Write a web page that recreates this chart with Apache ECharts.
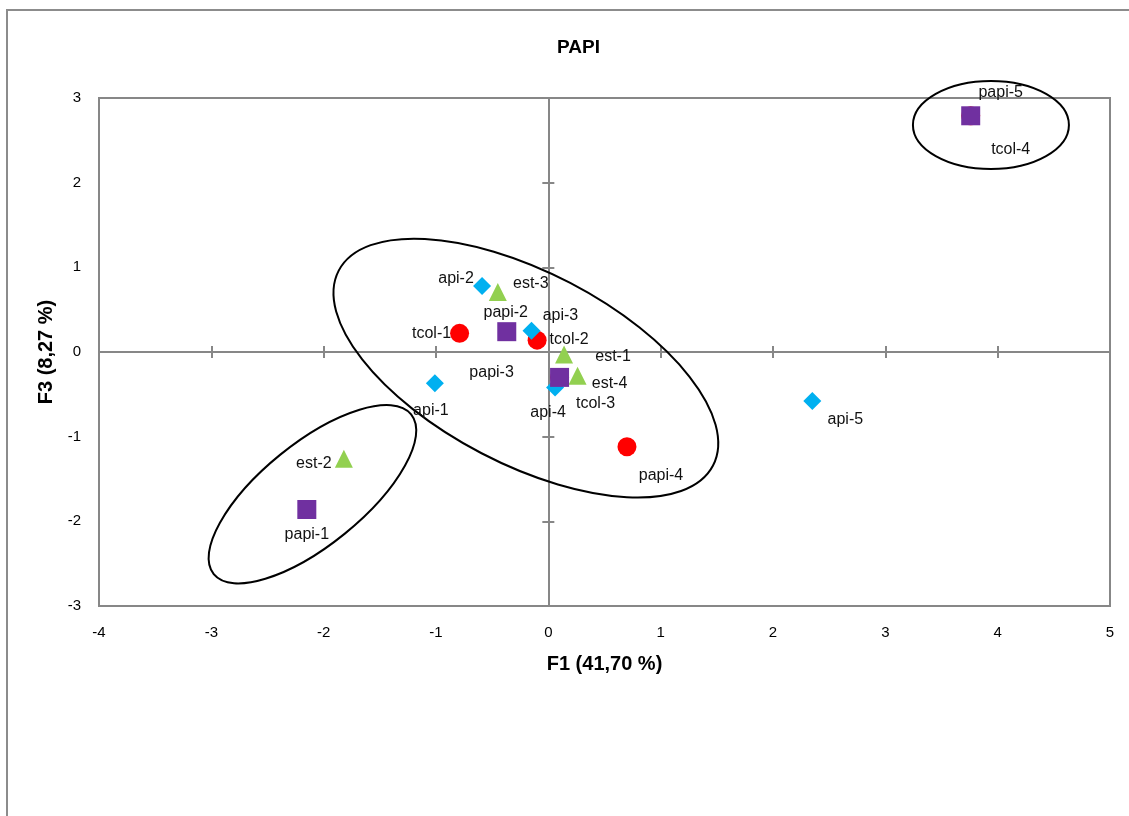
<!DOCTYPE html>
<html>
<head>
<meta charset="utf-8">
<script src="https://cdn.jsdelivr.net/npm/echarts@6/dist/echarts.min.js"></script>
<style>
html,body{margin:0;padding:0;background:#ffffff;}
#chart{width:1129px;height:816px;}
</style>
</head>
<body>
<div id="chart"></div>
<script>
// ---------- DATA ----------
const chartTitle = 'PAPI';
const xAxisName = 'F1 (41,70 %)';
const yAxisName = 'F3 (8,27 %)';
const xMin = -4, xMax = 5, xStep = 1;
const yMin = -3, yMax = 3, yStep = 1;

const pointNames = ['api-1','api-2','api-3','api-4','api-5',
                    'est-1','est-2','est-3','est-4',
                    'tcol-1','tcol-2','tcol-3','tcol-4',
                    'papi-1','papi-2','papi-3','papi-4','papi-5'];
const f1Values = [-1.01, -0.59, -0.15, 0.06, 2.35,
                   0.14, -1.82, -0.45, 0.26,
                  -0.79, -0.10, 0.10, 3.76,
                  -2.15, -0.37, 0.10, 0.70, 3.76];
const f3Values = [-0.37, 0.78, 0.25, -0.42, -0.58,
                  -0.03, -1.26, 0.71, -0.28,
                   0.22, 0.14, -0.30, 2.79,
                  -1.86, 0.24, -0.30, -1.12, 2.79];
const markerGroups = ['api','api','api','api','api',
                      'est','est','est','est',
                      'tcol','tcol','tcol','tcol',
                      'papi','papi','papi','tcol','papi'];

// ---------- STYLE ----------
const groupOrder = ['tcol','api','est','papi'];
const groupStyle = {
  api:  {symbol:'diamond',  size:18, color:'#00b0f0'},
  est:  {symbol:'triangle', size:18, color:'#92d050'},
  tcol: {symbol:'circle',   size:19, color:'#ff0000'},
  papi: {symbol:'rect',     size:19, color:'#7030a0'}
};
// label centre offset from the marker centre (px)
const labelOffsets = {
  'api-1':[-4,27], 'api-2':[-26,-7], 'api-3':[29,-15], 'api-4':[-7,25], 'api-5':[33,18],
  'est-1':[49,2], 'est-2':[-30,5], 'est-3':[33,-8], 'est-4':[32,8],
  'tcol-1':[-28,0], 'tcol-2':[32,-1], 'tcol-3':[36,26], 'tcol-4':[40,34],
  'papi-1':[0,25], 'papi-2':[-1,-19], 'papi-3':[-68,-5], 'papi-4':[34,29], 'papi-5':[30,-23]
};
// annotation ellipses: centre in data units, radii in px, rotation deg (anticlockwise)
const ellipses = [
  {cx:-0.20, cy:-0.19, rx:211, ry:96, rot:-27.5},
  {cx:-2.10, cy:-1.68, rx:127, ry:51, rot:39},
  {cx:3.94,  cy:2.68,  rx:78,  ry:44, rot:0}
];

const gray = '#878787';
const font = 'Liberation Sans, Arial, sans-serif';

const chart = echarts.init(document.getElementById('chart'));

const series = groupOrder.map(function (g) {
  const st = groupStyle[g];
  const data = [];
  pointNames.forEach(function (n, i) {
    if (markerGroups[i] !== g) return;
    data.push({
      name: n,
      value: [f1Values[i], f3Values[i]],
      label: {offset: labelOffsets[n]}
    });
  });
  return {
    type: 'scatter',
    name: g,
    xAxisIndex: 0,
    yAxisIndex: 0,
    symbol: st.symbol,
    symbolSize: st.size,
    itemStyle: {color: st.color, opacity: 1},
    label: {
      show: true,
      position: 'inside',
      formatter: '{b}',
      color: '#111',
      fontSize: 16,
      fontFamily: font
    },
    emphasis: {disabled: true},
    data: data
  };
});

function valueAxisBase(min, max, step) {
  return {type:'value', min:min, max:max, interval:step, splitLine:{show:false}};
}

const option = {
  animation: false,
  backgroundColor: '#ffffff',
  title: {
    text: chartTitle,
    left: 552,
    top: 33,
    textStyle: {fontSize: 19, fontWeight: 'bold', color: '#000', fontFamily: font}
  },
  grid: {
    left: 99, right: 19, top: 98, bottom: 210,
    show: true, borderColor: gray, borderWidth: 2,
    outerBoundsMode: 'none', containLabel: false
  },
  xAxis: [
    Object.assign(valueAxisBase(xMin, xMax, xStep), {
      position: 'bottom',
      axisLine: {show: false, onZero: false},
      axisTick: {show: false},
      axisLabel: {show: true, color: '#000', fontSize: 15, fontFamily: font, margin: 19},
      name: xAxisName, nameLocation: 'middle', nameGap: 48,
      nameTextStyle: {fontSize: 20, fontWeight: 'bold', color: '#000', fontFamily: font}
    }),
    Object.assign(valueAxisBase(xMin, xMax, xStep), {
      position: 'bottom',
      axisLine: {show: true, onZero: true, onZeroAxisIndex: 0, lineStyle: {color: gray, width: 2}},
      axisTick: {show: true, inside: true, length: 6, lineStyle: {color: gray, width: 2}},
      axisLabel: {show: false}
    }),
    Object.assign(valueAxisBase(xMin, xMax, xStep), {
      position: 'bottom',
      axisLine: {show: false, onZero: true, onZeroAxisIndex: 0},
      axisTick: {show: true, inside: false, length: 6, lineStyle: {color: gray, width: 2}},
      axisLabel: {show: false}
    })
  ],
  yAxis: [
    Object.assign(valueAxisBase(yMin, yMax, yStep), {
      position: 'left',
      axisLine: {show: false, onZero: false},
      axisTick: {show: false},
      axisLabel: {show: true, color: '#000', fontSize: 15, fontFamily: font, margin: 18},
      name: yAxisName, nameLocation: 'middle', nameGap: 39,
      nameTextStyle: {fontSize: 20, fontWeight: 'bold', color: '#000', fontFamily: font}
    }),
    Object.assign(valueAxisBase(yMin, yMax, yStep), {
      position: 'left',
      axisLine: {show: true, onZero: true, onZeroAxisIndex: 0, lineStyle: {color: gray, width: 2}},
      axisTick: {show: true, inside: true, length: 6, lineStyle: {color: gray, width: 2}},
      axisLabel: {show: false}
    }),
    Object.assign(valueAxisBase(yMin, yMax, yStep), {
      position: 'left',
      axisLine: {show: false, onZero: true, onZeroAxisIndex: 0},
      axisTick: {show: true, inside: false, length: 6, lineStyle: {color: gray, width: 2}},
      axisLabel: {show: false}
    })
  ],
  series: series
};

chart.setOption(option);

// frame + ellipses (annotations positioned through the chart's own scales)
const elements = [{
  type: 'rect',
  shape: {x: 7, y: 10, width: 1140, height: 900},
  style: {fill: 'none', stroke: '#8c8c8c', lineWidth: 2},
  silent: true, z: -1
}];
ellipses.forEach(function (e) {
  const p = chart.convertToPixel({xAxisIndex: 0, yAxisIndex: 0}, [e.cx, e.cy]);
  elements.push({
    type: 'ellipse',
    x: p[0], y: p[1],
    rotation: e.rot * Math.PI / 180,
    shape: {cx: 0, cy: 0, rx: e.rx, ry: e.ry},
    style: {fill: 'none', stroke: '#000', lineWidth: 2},
    silent: true, z: 1
  });
});
chart.setOption({graphic: {elements: elements}});
</script>
</body>
</html>
